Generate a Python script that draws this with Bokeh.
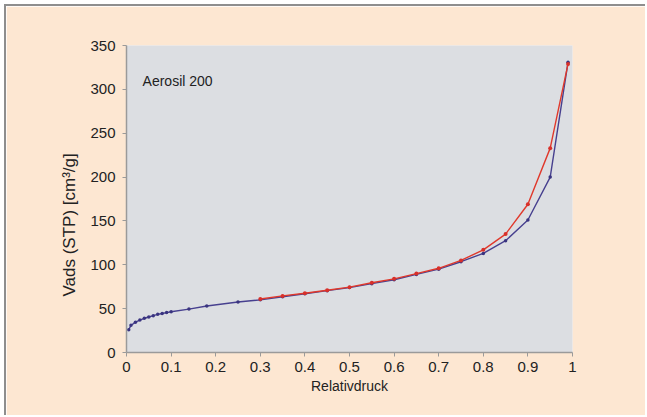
from bokeh.plotting import figure
from bokeh.models import FixedTicker, Label, Range1d, Title
from bokeh.embed import file_html
from bokeh.resources import INLINE

# Adsorption (blue) branch
ads_x = [0.005, 0.01, 0.02, 0.03, 0.04, 0.05, 0.06, 0.07, 0.08, 0.09, 0.1, 0.14,
         0.18, 0.25, 0.3, 0.35, 0.4, 0.45, 0.5, 0.55, 0.6, 0.65, 0.7, 0.75, 0.8,
         0.85, 0.9, 0.95, 0.99]
ads_y = [26, 31, 34.5, 37, 39, 40.5, 42, 43.5, 44.5, 45.5, 46.5, 49.5,
         53, 57.5, 60, 63.5, 67, 70.5, 74, 78.5, 83, 89, 95, 103.5, 113,
         127.5, 151, 200, 331]
# Desorption (red) branch
des_x = [0.3, 0.35, 0.4, 0.45, 0.5, 0.55, 0.6, 0.65, 0.7, 0.75, 0.8, 0.85, 0.9, 0.95, 0.99]
des_y = [61, 64.5, 67.5, 71, 74.5, 79.5, 84, 90, 96, 105, 117, 135, 169, 233, 329]

x_ticks = [0, 0.1, 0.2, 0.3, 0.4, 0.5, 0.6, 0.7, 0.8, 0.9, 1]
x_tick_labels = ["0", "0.1", "0.2", "0.3", "0.4", "0.5", "0.6", "0.7", "0.8", "0.9", "1"]
y_ticks = [0, 50, 100, 150, 200, 250, 300, 350]

FONT = "Liberation Sans"

p = figure(width=641, height=411, output_backend="svg", toolbar_location=None,
           x_range=Range1d(0, 1), y_range=Range1d(0, 350),
           min_border_left=120, min_border_right=75, min_border_top=39, min_border_bottom=65)
p.margin = (4, 0, 0, 4)
p.styles = {"border-top": "2px solid #8e8e8e", "border-left": "2px solid #8e8e8e"}

p.background_fill_color = "#dcdee2"
p.border_fill_color = "#fde7d2"
p.outline_line_color = None
p.grid.visible = False

p.xaxis.ticker = FixedTicker(ticks=x_ticks)
p.xaxis.major_label_overrides = {t: l for t, l in zip(x_ticks, x_tick_labels)}
p.yaxis.ticker = FixedTicker(ticks=y_ticks)
for ax in (p.xaxis, p.yaxis):
    ax.axis_line_color = "#9a9a9a"
    ax.axis_line_width = 1.5
    ax.major_tick_line_color = "#9a9a9a"
    ax.major_tick_out = 4
    ax.major_tick_in = 0
    ax.minor_tick_line_color = None
    ax.major_label_text_font = FONT
    ax.major_label_text_font_size = "15px"
    ax.major_label_text_color = "#222222"
p.xaxis.major_label_standoff = 5
p.yaxis.major_label_standoff = 7

p.xaxis.axis_label = "Relativdruck"
p.xaxis.axis_label_text_font = FONT
p.xaxis.axis_label_text_font_size = "14px"
p.xaxis.axis_label_text_font_style = "normal"
p.xaxis.axis_label_text_color = "#222222"
p.xaxis.axis_label_standoff = 3

# y-axis title (off-centre in the original), added as a left-side title
p.add_layout(Title(text="Vads (STP) [cm³/g]", align="left", offset=56, standoff=17,
                   text_font=FONT, text_font_size="17px", text_font_style="normal",
                   text_color="#222222"), "left")

p.line(ads_x, ads_y, line_color="#47408f", line_width=1.4)
p.scatter(ads_x, ads_y, size=3.5, fill_color="#3a3480", line_color=None)
p.line(des_x, des_y, line_color="#e0392c", line_width=1.4)
p.scatter(des_x, des_y, size=4, fill_color="#d8302a", line_color=None)

p.add_layout(Label(x=0.036, y=309, text="Aerosil 200", text_font=FONT,
                   text_font_size="14px", text_color="#222222", text_baseline="middle"))

open("out.html", "w").write(file_html(p, INLINE))
